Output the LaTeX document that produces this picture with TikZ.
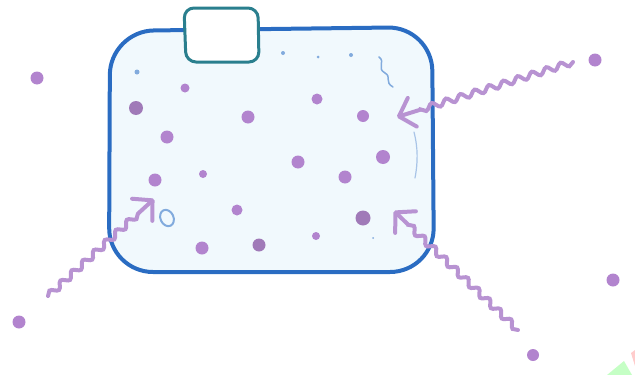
\documentclass[tikz,border=0pt]{standalone}
\usetikzlibrary{arrows.meta}
\usetikzlibrary{decorations.pathmorphing}

\definecolor{cellblue}{HTML}{2A6CC2}
\definecolor{cellfill}{HTML}{F1F9FD}
\definecolor{poreteal}{HTML}{2A7F8E}
\definecolor{molpurple}{HTML}{B284CE}
\definecolor{moldark}{HTML}{A07AB8}
\definecolor{wavepurple}{HTML}{B893D2}
\definecolor{speckblue}{HTML}{82ABDD}

\begin{document}
\begin{tikzpicture}
[x=1pt,y=-1pt,
 dot/.style={circle,fill=molpurple,inner sep=0pt,minimum size=#1},
 dot/.default=12pt,
 darkdot/.style={dot=#1,fill=moldark},
 speck/.style={circle,fill=speckblue,inner sep=0pt,minimum size=#1},
 wave/.style={draw=wavepurple,line width=4pt,line cap=round,
   decorate,decoration={snake,amplitude=3pt,segment length=15pt,post length=20pt},
   -{Straight Barb[length=14pt,width=30pt,round]}}]

\useasboundingbox (0,0) rectangle (635,375);

% the cell and the pore on top
\draw[cellblue,fill=cellfill,line width=4pt,rounded corners=44pt]
  (110,31) -- (432,27) -- (434,272) -- (109,272) -- cycle;
\draw[poreteal,fill=white,line width=3pt,rounded corners=10pt]
  (184,8) -- (258,8) -- (259,62) -- (186,62) -- cycle;

% bits of light blue inside
\node[speck=5pt] (s1) at (137,72) {};
\node[speck=4pt] (s2) at (283,53) {};
\node[speck=3pt] (s3) at (318,57) {};
\node[speck=4pt] (s4) at (351,55) {};
\node[speck=2pt] (s5) at (373,238) {};
\draw[speckblue,line width=1.5pt,line cap=round]
  (379,57) .. controls (386,62) and (376,68) .. (385,73)
           .. controls (392,77) and (384,82) .. (393,87);
\draw[speckblue!70,line width=1.2pt,line cap=round]
  (414,132) .. controls (418,148) and (418,162) .. (415,178);
\draw[speckblue,line width=2pt,rotate around={25:(167,218)}]
  (167,218) ellipse (6.5pt and 8.5pt);

% molecules inside
\node[dot=9pt] (m1) at (185,88) {};
\node[darkdot=14pt] (m2) at (136,108) {};
\node[dot=13pt] (m3) at (248,117) {};
\node[dot=11pt] (m4) at (317,99) {};
\node[dot=12pt] (m5) at (363,116) {};
\node[dot=13pt] (m6) at (167,137) {};
\node[dot=13pt] (m7) at (298,162) {};
\node[dot=14pt] (m8) at (383,157) {};
\node[dot=13pt] (m9) at (155,180) {};
\node[dot=8pt] (m10) at (203,174) {};
\node[dot=13pt] (m11) at (345,177) {};
\node[dot=11pt] (m12) at (237,210) {};
\node[darkdot=15pt] (m13) at (363,218) {};
\node[dot=8pt] (m14) at (316,236) {};
\node[dot=13pt] (m15) at (202,248) {};
\node[darkdot=13pt] (m16) at (259,245) {};

% molecules outside
\node[dot=13pt] (o1) at (37,78) {};
\node[dot=13pt] (o2) at (595,60) {};
\node[dot=13pt] (o3) at (19,322) {};
\node[dot=13pt] (o4) at (613,280) {};
\node[dot=12pt] (o5) at (533,355) {};

% incoming waves
\coordinate (tailA) at (48,296);
\coordinate (tipA) at (154,199);
\coordinate (tailB) at (573,62);
\coordinate (tipB) at (397,117);
\coordinate (tailC) at (518,330);
\coordinate (tipC) at (394,211);
\draw[wave] (tailA) -- (tipA);
\draw[wave] (tailB) -- (tipB);
\draw[wave] (tailC) -- (tipC);

% corner smudge
\fill[green!45!white,opacity=0.5] (607,375) -- (624,361) -- (632,375) -- cycle;
\fill[red!40!white,opacity=0.5] (631,353) -- (635,350) -- (635,366) -- cycle;
\end{tikzpicture}
\end{document}
